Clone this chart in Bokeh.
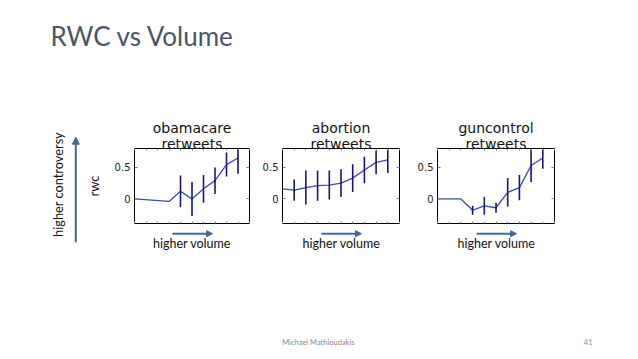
import numpy as np
from bokeh.plotting import figure
from bokeh.layouts import column, row
from bokeh.models import Range1d, LinearAxis, FixedTicker, Arrow, NormalHead, Title
from bokeh.core.properties import value
from bokeh.embed import file_html
from bokeh.resources import INLINE

# ---------------- data ----------------
slide_title = "RWC vs Volume"
panel_titles = [["obamacare", "retweets"], ["abortion", "retweets"], ["guncontrol", "retweets"]]
y_label = "rwc"
side_label = "higher controversy"
x_note = "higher volume"
footer_author = "Michael Mathioudakis"
footer_page = "41"

y_ticks = [0, 0.5]
y_tick_labels = ["0", "0.5"]

obama_x = [0, 3, 4, 5, 6, 7, 8, 9]
obama_y = [0.0, -0.04, 0.12, 0.0, 0.16, 0.29, 0.545, 0.65]
obama_err = [0, 0, 0.25, 0.27, 0.22, 0.21, 0.19, 0.25]

abortion_x = [0, 1, 2, 3, 4, 5, 6, 7, 8, 9]
abortion_y = [0.16, 0.14, 0.18, 0.21, 0.22, 0.25, 0.33, 0.46, 0.58, 0.62]
abortion_err = [0, 0.17, 0.27, 0.24, 0.23, 0.22, 0.22, 0.21, 0.19, 0.21]

gun_x = [0, 2, 3, 4, 5, 6, 7, 8, 9]
gun_y = [0.0, 0.0, -0.18, -0.11, -0.14, 0.105, 0.18, 0.53, 0.65]
gun_err = [0, 0, 0.07, 0.14, 0.08, 0.225, 0.20, 0.26, 0.17]

# ---------------- styles / layout ----------------
LINE_C = "#3a48b8"
ERR_C = "#16167a"
ARROW_C = "#44689e"
SLIDE_FONT = "Lato"
PLOT_FONT = "DejaVu Sans"
Y0, Y1 = -0.39, 0.80
BASE_SHIFT = 0.37       # svg alphabetic-baseline correction (fraction of font size)

HEADER_H = 110
ROW_TOP = 110
PANEL_H = 118           # 110..228 (frame 148..223)
BOTTOM_TOP, BOTTOM_BOT = 228, 262
FOOTER_TOP, FOOTER_BOT = 262, 351
LEFT_W = 82
RIGHT_X0, RIGHT_X1 = 82, 630

# (figure width, border left, border right)
panel_geo = [(177, 50, 10), (155, 22, 15), (216, 22, 76)]


def deco_fig(x0, x1, ytop, ybot, **kw):
    f = figure(width=int(x1 - x0), height=int(ybot - ytop),
               x_range=Range1d(x0, x1), y_range=Range1d(ybot, ytop),
               x_axis_type=None, y_axis_type=None, toolbar_location=None,
               output_backend="svg", min_border=0, title_location=None, **kw)
    f.outline_line_color = None
    f.background_fill_color = "white"
    f.border_fill_color = "white"
    return f


def hidden_axis(ticks, tick_len):
    ax = LinearAxis(ticker=FixedTicker(ticks=ticks))
    ax.axis_line_color = None
    ax.major_tick_in = tick_len
    ax.major_tick_out = 0
    ax.major_tick_line_color = "#888888"
    ax.major_label_text_font_size = "0px"
    ax.major_label_text_alpha = 0
    ax.major_label_standoff = 0
    return ax


def panel(xs, ys, errs, title_lines, width, left, right, ylabel=None):
    p = figure(width=width, height=PANEL_H, x_range=Range1d(0, 10), y_range=Range1d(Y0, Y1),
               x_axis_type=None, y_axis_type=None, toolbar_location=None,
               output_backend="svg", min_border_left=left, min_border_right=right,
               min_border_top=38, min_border_bottom=5, title_location=None)
    p.outline_line_color = "black"
    p.outline_line_width = 1
    p.outline_line_alpha = 1
    p.background_fill_color = "white"
    p.border_fill_color = "white"

    yl = LinearAxis(ticker=FixedTicker(ticks=y_ticks),
                    major_label_overrides=dict(zip(y_ticks, y_tick_labels)))
    yl.axis_line_color = None
    yl.major_tick_in = 3
    yl.major_tick_out = 0
    yl.major_tick_line_color = "#777777"
    yl.major_label_standoff = 4
    yl.major_label_text_font = PLOT_FONT
    yl.major_label_text_font_size = "10px"
    yl.major_label_text_color = "#222222"
    if ylabel:
        yl.axis_label = ylabel
        yl.axis_label_text_font = SLIDE_FONT
        yl.axis_label_text_font_size = "13px"
        yl.axis_label_text_font_style = "normal"
        yl.axis_label_text_color = "#111111"
        yl.axis_label_standoff = 10
    p.add_layout(yl, "left")
    p.add_layout(hidden_axis(list(range(11)), 2), "below")
    p.add_layout(hidden_axis(list(range(11)), 2), "above")
    p.add_layout(hidden_axis(y_ticks, 3), "right")

    # two-line panel title: nearest line first
    for t, so in ((title_lines[1], -6), (title_lines[0], 2)):
        p.add_layout(Title(text=t, align="center", vertical_align="bottom", standoff=so,
                           text_font=PLOT_FONT, text_font_size="14px",
                           text_font_style="normal", text_color="#111111"), "above")

    xs_a = np.array(xs, dtype=float)
    ys_a = np.array(ys, dtype=float)
    er_a = np.array(errs, dtype=float)
    m = er_a > 0
    p.line(xs_a, ys_a, line_color=LINE_C, line_width=1.3)
    p.segment(x0=xs_a[m], y0=ys_a[m] - er_a[m], x1=xs_a[m], y1=ys_a[m] + er_a[m],
              line_color=ERR_C, line_width=1.6)
    return p


def base(b, fs):
    return b - BASE_SHIFT * fs


# header with slide title
header = deco_fig(0, 630, 0, HEADER_H)
header.text(x=[50], y=[base(45.3, 26)], text=[slide_title], text_font=value(SLIDE_FONT),
            text_font_size="26px", text_color="#4b5563", text_baseline="alphabetic",
            text_align="left")

# left decoration: vertical arrow + rotated label (as axis label)
left = figure(width=LEFT_W, height=BOTTOM_BOT - ROW_TOP,
              x_range=Range1d(70, LEFT_W), y_range=Range1d(248, 120),
              x_axis_type=None, y_axis_type=None, toolbar_location=None,
              output_backend="svg", min_border_left=70, min_border_right=0,
              min_border_top=10, min_border_bottom=14, title_location=None)
left.outline_line_color = None
lax = LinearAxis(ticker=FixedTicker(ticks=[]), axis_label=side_label)
lax.axis_line_color = None
lax.major_tick_out = 0
lax.major_tick_in = 0
lax.major_label_standoff = 0
lax.axis_label_standoff = 5
lax.axis_label_text_font = SLIDE_FONT
lax.axis_label_text_font_size = "12.8px"
lax.axis_label_text_font_style = "normal"
lax.axis_label_text_color = "#111111"
left.add_layout(lax, "left")
left.add_layout(Arrow(x_start=75.3, y_start=241.7, x_end=75.3, y_end=136.7,
                      line_color=ARROW_C, line_width=2,
                      end=NormalHead(size=7, fill_color=ARROW_C, line_color=ARROW_C)))

# panels
datasets = [(obama_x, obama_y, obama_err), (abortion_x, abortion_y, abortion_err),
            (gun_x, gun_y, gun_err)]
panels = []
frame_lefts = []
frame_widths = []
xcur = RIGHT_X0
for k, ((xs, ys, es), (w, bl, br)) in enumerate(zip(datasets, panel_geo)):
    panels.append(panel(xs, ys, es, panel_titles[k], w, bl, br,
                        ylabel=y_label if k == 0 else None))
    frame_lefts.append(xcur + bl)
    frame_widths.append(w - bl - br)
    xcur += w
centers = [fl + fw / 2 for fl, fw in zip(frame_lefts, frame_widths)]

# arrows + notes below panels
bottom = deco_fig(RIGHT_X0, RIGHT_X1, BOTTOM_TOP, BOTTOM_BOT)
for fl in frame_lefts:
    bottom.add_layout(Arrow(x_start=fl + 40, y_start=233.2, x_end=fl + 80, y_end=233.2,
                            line_color=ARROW_C, line_width=2,
                            end=NormalHead(size=6, fill_color=ARROW_C, line_color=ARROW_C)))
bottom.text(x=[c + 1 for c in centers], y=[base(247.5, 12.5)] * 3, text=[x_note] * 3,
            text_font=value(SLIDE_FONT), text_font_size="12.5px", text_color="#111111",
            text_align="center", text_baseline="alphabetic")

footer = deco_fig(0, 630, FOOTER_TOP, FOOTER_BOT)
footer.text(x=[281.7], y=[341.7], text=[footer_author], text_font=value(SLIDE_FONT),
            text_font_size="7.5px", text_color="#8a8a8a", text_baseline="middle",
            text_align="left")
footer.text(x=[583.3], y=[341.7], text=[footer_page], text_font=value(SLIDE_FONT),
            text_font_size="7.5px", text_color="#8a8a8a", text_baseline="middle",
            text_align="left")

layout = column(header,
                row(left, column(row(*panels), bottom)),
                footer)

open("out.html", "w").write(file_html(layout, INLINE))
